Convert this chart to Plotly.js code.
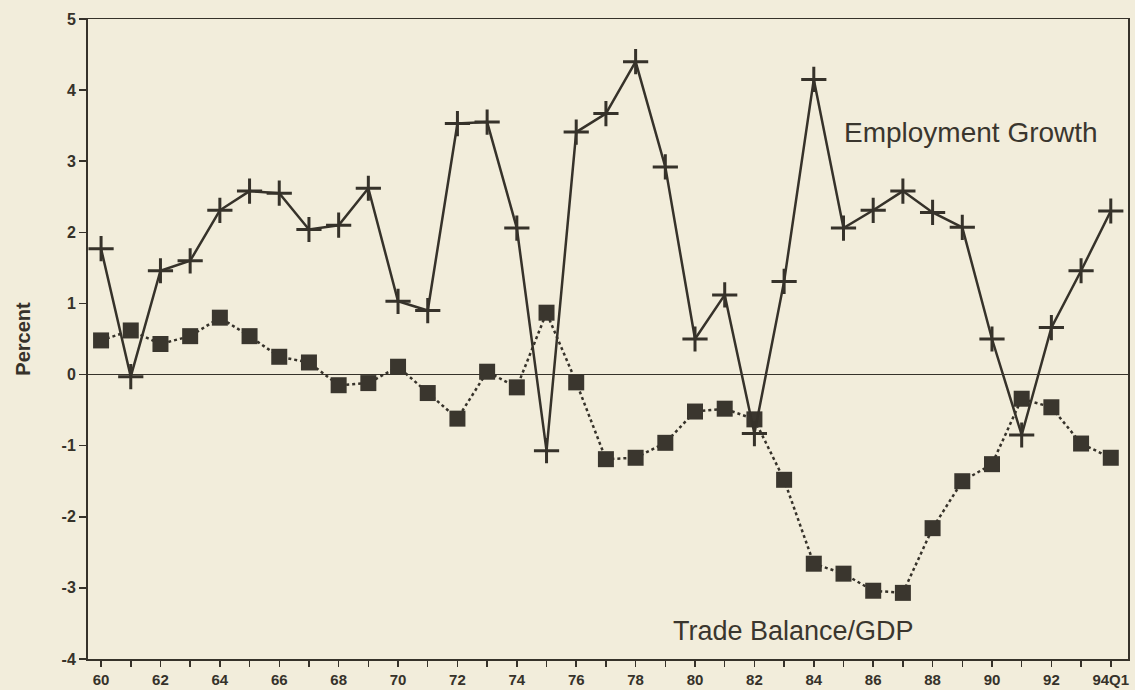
<!DOCTYPE html>
<html>
<head>
<meta charset="utf-8">
<script src="https://cdn.plot.ly/plotly-3.0.1.min.js"></script>
<style>
  html, body { margin: 0; padding: 0; background: #f2eddb; }
  #chart { width: 1135px; height: 690px; }
</style>
</head>
<body>
<div id="chart"></div>
<script>
// Years 1960 .. 1994Q1 (two-digit)
const years = [60,61,62,63,64,65,66,67,68,69,70,71,72,73,74,75,76,77,78,79,80,81,82,83,84,85,86,87,88,89,90,91,92,93,94];
const employmentGrowth = [1.77,-0.03,1.46,1.6,2.31,2.58,2.55,2.04,2.1,2.62,1.03,0.9,3.53,3.55,2.06,-1.07,3.41,3.67,4.4,2.92,0.5,1.12,-0.83,1.31,4.15,2.06,2.31,2.58,2.28,2.07,0.5,-0.85,0.66,1.46,2.3];
const tradeBalanceGDP = [0.48,0.62,0.43,0.54,0.8,0.54,0.25,0.17,-0.15,-0.12,0.11,-0.26,-0.62,0.04,-0.18,0.87,-0.11,-1.19,-1.17,-0.96,-0.52,-0.48,-0.63,-1.48,-2.66,-2.8,-3.04,-3.07,-2.16,-1.5,-1.26,-0.34,-0.46,-0.97,-1.17];
const xTickLabels = years.map((y, i) => (y === 94 ? '94Q1' : (y % 2 === 0 ? String(y) : '')));
const yTicks = [-4,-3,-2,-1,0,1,2,3,4,5];

const ink = '#36322a';
const fam = 'Liberation Sans, Arial, sans-serif';

const traces = [
  {
    x: years, y: tradeBalanceGDP, type: 'scatter', mode: 'lines+markers',
    name: 'Trade Balance/GDP',
    line: { color: ink, width: 2.5, dash: 'dot' },
    marker: { symbol: 'square', size: 16, color: '#3a362e' }
  },
  {
    x: years, y: employmentGrowth, type: 'scatter', mode: 'lines+markers',
    name: 'Employment Growth',
    line: { color: ink, width: 2.5 },
    marker: { symbol: 'cross-thin', size: 18, color: ink, line: { color: ink, width: 3 } }
  }
];

const layout = {
  width: 1135, height: 690,
  paper_bgcolor: '#f2eddb', plot_bgcolor: '#f2eddb',
  margin: { l: 88, r: 7, t: 19, b: 31 },
  showlegend: false,
  font: { family: fam, color: ink },
  xaxis: {
    range: [59.56, 94.58],
    tickmode: 'array', tickvals: years, ticktext: xTickLabels,
    ticks: 'outside', ticklen: 6, tickwidth: 1.5, tickcolor: ink,
    showgrid: false, zeroline: false,
    showline: true, linecolor: ink, linewidth: 1.5, mirror: true,
    tickfont: { size: 15, family: fam, color: ink, weight: 'bold' },
    tickangle: 0
  },
  yaxis: {
    range: [-4, 5],
    tickmode: 'array', tickvals: yTicks, ticktext: yTicks.map(String),
    ticks: 'outside', ticklen: 7, tickwidth: 1.5, tickcolor: ink,
    showgrid: false,
    zeroline: true, zerolinecolor: ink, zerolinewidth: 1.2,
    showline: true, linecolor: ink, linewidth: 2, mirror: true,
    tickfont: { size: 16, family: fam, color: ink, weight: 'bold' },
    title: { text: 'Percent', standoff: 26, font: { size: 20, family: fam, color: ink, weight: 'bold' } }
  },
  annotations: [
    { x: 89.3, y: 3.41, xref: 'x', yref: 'y', text: 'Employment Growth', showarrow: false,
      font: { size: 28, family: fam, color: '#3a362e' } },
    { x: 83.3, y: -3.6, xref: 'x', yref: 'y', text: 'Trade Balance/GDP', showarrow: false,
      font: { size: 27, family: fam, color: '#3a362e' } }
  ]
};

Plotly.newPlot('chart', traces, layout, { displayModeBar: false, staticPlot: true });
</script>
</body>
</html>
